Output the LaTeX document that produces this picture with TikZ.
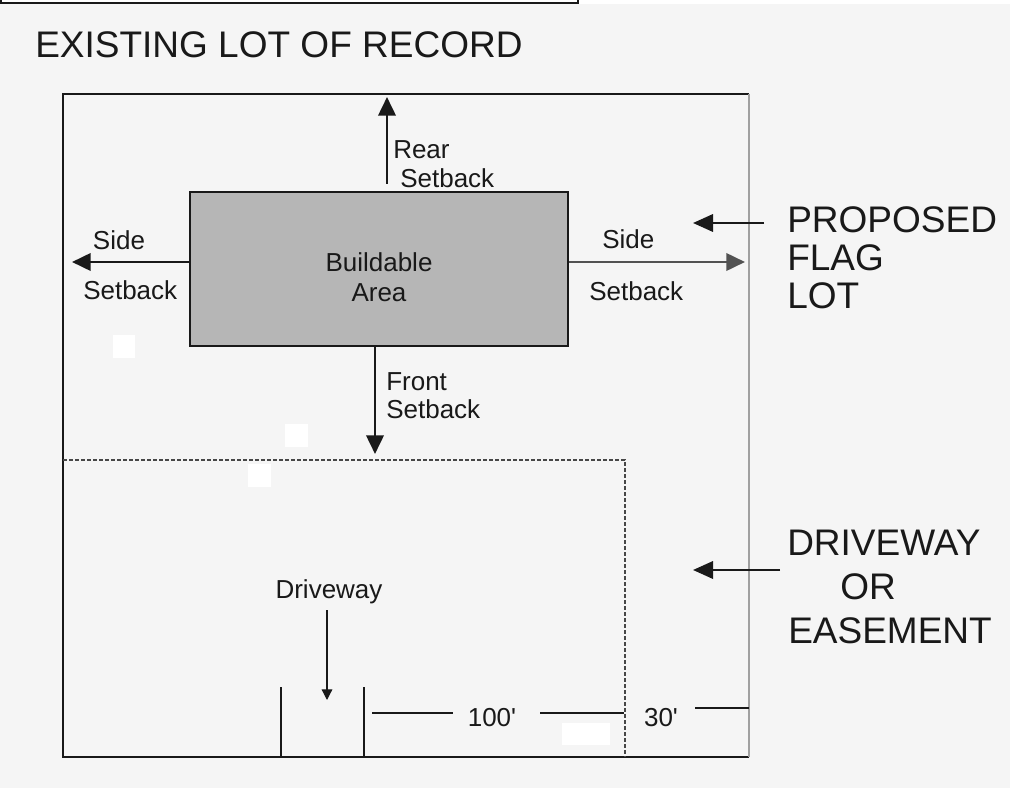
\documentclass[tikz,border=0pt]{standalone}
\usepackage{fontspec}
\setmainfont{Liberation Sans}
\usetikzlibrary{arrows.meta,positioning,calc}
\definecolor{paper}{RGB}{245,245,245}
\definecolor{buildgray}{RGB}{182,182,182}
\definecolor{ink}{RGB}{25,25,25}
\definecolor{sidegray}{RGB}{160,160,160}
\newcommand\lotbig{\fontsize{27.75}{33}\selectfont}
\newcommand\lotsmall{\fontsize{19.5}{23}\selectfont}
\tikzset{
  lotline/.style={draw=ink,line width=1.8pt},
  sideline/.style={draw=sidegray,line width=1.8pt},
  easeline/.style={draw=ink!80,line width=1pt,dash pattern=on 3pt off 1.5pt},
  bldbox/.style={draw=ink,fill=buildgray,line width=1.8pt,inner sep=0pt,
                 minimum width=283.5pt,minimum height=115.5pt},
  setarrow/.style={-{Triangle[length=14pt,width=13pt]},draw=ink,line width=2pt},
  notearrow/.style={-{Triangle[length=15pt,width=13pt]},draw=ink,line width=1.8pt},
  drvarrow/.style={-{Triangle[length=8pt,width=8pt]},draw=ink,line width=0.9pt},
  dimline/.style={draw=ink,line width=1.4pt},
  postline/.style={draw=ink,line width=1.5pt},
  lbl/.style={font=\lotsmall,text=ink,inner sep=0pt},
  big/.style={font=\lotbig,text=ink,inner sep=0pt},
  blank/.style={fill=white,draw=none}
}
\begin{document}
\begin{tikzpicture}[x=0.75pt,y=-0.75pt]
  \useasboundingbox (0,0) rectangle (1010,788);
  \fill[paper] (0,0) rectangle (1010,788);
  \fill[white] (0,0) rectangle (1010,4);
  \draw[lotline,fill=white] (1,-6) rectangle (578,3);

  \node[big,anchor=base west] (title) at (35,58) {EXISTING LOT OF RECORD};

  % Lot boundary.
  \coordinate (lotNW) at (63,94);
  \coordinate (lotSE) at (749,757);
  \draw[lotline] (lotSE) -- (lotNW |- lotSE) -- (lotNW) -- (lotNW -| lotSE);
  \draw[sideline] (lotNW -| lotSE) -- (lotSE);

  % Driveway or easement strip.
  \coordinate (easeNW) at (63,460);
  \coordinate (easeSE) at (625,757);
  \draw[easeline] (easeNW) -- (easeNW -| easeSE) -- (easeSE);

  % Whited-out patches.
  \fill[blank] (113,335) rectangle (135,358);
  \fill[blank] (285,424) rectangle (308,447);
  \fill[blank] (248,464) rectangle (271,487);
  \fill[blank] (562,723) rectangle (610,745);

  % Buildable area.
  \node[bldbox] (bld) at (379,269) {};
  \node[lbl,anchor=base] (bldtop) at (379,271) {Buildable};
  \node[lbl,anchor=base] (bldbot) at (379,301) {Area};

  % Setbacks.
  \coordinate (rearS) at ($(bld.north)+(8,-7)$);
  \coordinate (rearE) at (387,97);
  \draw[setarrow] (rearS) -- (rearE);
  \node[lbl,anchor=base west] (rear1) at (393,159) {Rear};
  \node[lbl,anchor=base west] (rear2) at (400,188) {Setback};

  \coordinate (leftE) at (72,262);
  \draw[setarrow] (bld.west |- leftE) -- (leftE);
  \node[lbl,anchor=base] (left1) at (119,249) {Side};
  \node[lbl,anchor=base west] (left2) at (83,299) {Setback};

  \coordinate (rightE) at (745,262);
  \draw[setarrow,draw=ink!75] (bld.east |- rightE) -- (rightE);
  \node[lbl,anchor=base west] (right1) at (602,248) {Side};
  \node[lbl,anchor=base west] (right2) at (589,300) {Setback};

  \coordinate (frontE) at (375,454);
  \draw[setarrow] (bld.south -| frontE) -- (frontE);
  \node[lbl,anchor=base west] (front1) at (386,390) {Front};
  \node[lbl,anchor=base west] (front2) at (386,418) {Setback};

  % Driveway and dimensions.
  \node[lbl,anchor=base] (drv) at (329,598) {Driveway};
  \coordinate (drvE) at (327,700);
  \draw[drvarrow] (drvE |- 0,610) -- (drvE);
  \draw[postline] (281,687) -- (281,757);
  \draw[postline] (364,687) -- (364,757);
  \node[lbl,anchor=base] (dimA) at (492,726) {100\textquotesingle};
  \node[lbl,anchor=base] (dimB) at (661,726) {30\textquotesingle};
  \draw[dimline] (372,713) -- (453,713);
  \draw[dimline] (540,713) -- (624,713);
  \draw[dimline] (695,708) -- (749,708);

  % Callouts on the right.
  \node[big,anchor=base west] (prop1) at (787,232) {PROPOSED};
  \node[big,anchor=base west] (prop2) at (787,270) {FLAG};
  \node[big,anchor=base west] (prop3) at (787,308) {LOT};
  \coordinate (propS) at (764,223);
  \draw[notearrow] (propS) -- (693,223);

  \node[big,anchor=base west] (ease1) at (787,555) {DRIVEWAY};
  \node[big,anchor=base west] (ease2) at (840,599) {OR};
  \node[big,anchor=base west] (ease3) at (788,643) {EASEMENT};
  \coordinate (easeS) at (780,570);
  \draw[notearrow] (easeS) -- (693,570);
\end{tikzpicture}
\end{document}
